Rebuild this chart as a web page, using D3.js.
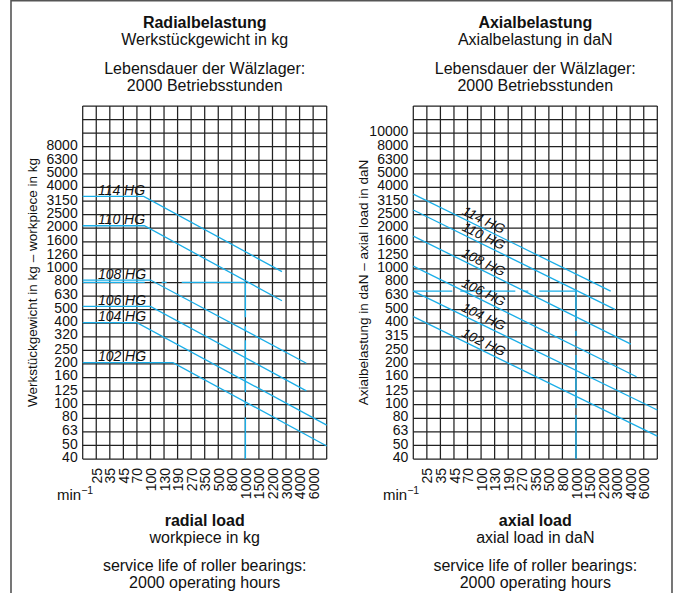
<!DOCTYPE html>
<html><head><meta charset="utf-8">
<script src="https://cdn.jsdelivr.net/npm/d3@7"></script>
<style>
html,body{margin:0;padding:0;background:#fff;}
svg{display:block;font-family:"Liberation Sans",Arial,Helvetica,sans-serif;}
</style></head><body>
<svg id="chart" width="679" height="593"></svg>
<script>
// ---------------- data ----------------
// speed (min^-1) labels, placed on grid columns 1..17 (columns 0..18 form the grid)
const speedLabels = ["25","35","45","70","100","130","190","270","350","500","800","1000","1500","2200","3000","4000","6000"];
const radialTicks = [40,50,63,80,100,125,160,200,250,320,400,500,630,800,1000,1260,1600,2000,2500,3150,4000,5000,6300,8000];
const axialTicks  = [40,50,63,80,100,125,160,200,250,315,400,500,630,800,1000,1250,1600,2000,2500,3150,4000,5000,6300,8000,10000];

// series vertices: [speed column position, load]
const radial114 = [[0,3440],[4.5,3440],[14.7,960]];
const radial110 = [[0,2090],[4.55,2090],[14.7,586]];
const radial108 = [[0,832],[5,832],[16.5,203]];
const radial106 = [[0,532],[5,532],[16.5,127]];
const radial104 = [[0,404],[4,404],[18,71.1]];
const radial102 = [[0,205],[6.66,205],[18,49.9]];
const radialNames = ["114 HG","110 HG","108 HG","106 HG","104 HG","102 HG"];

const axial114 = [[0,3573],[14.56,690]];
const axial110 = [[0,2729],[14.87,506]];
const axial108 = [[0,1754],[16.05,281]];
const axial106 = [[0,1054],[16.47,161.5]];
const axial104 = [[0,690],[18,91.8]];
const axial102 = [[0,448],[18,59]];
const axialNames = ["114 HG","110 HG","108 HG","106 HG","104 HG","102 HG"];

// example reading (speed column, load)
const radialExample = [12, 800];
const axialExample  = [12, 690];

// ---------------- drawing ----------------
const svg = d3.select("#chart");
const BLUE = "#1aaee8";

svg.append("path")
  .attr("d","M11,600 L11,0.75 L672,0.75 L672,600")
  .attr("fill","none").attr("stroke","#555").attr("stroke-width",1.6);

function panel(o){
  const g = svg.append("g");
  const x = d3.scaleLinear().domain([0,18]).range([o.left, o.left+244]);
  const y = d3.scaleLog().domain([40, 40*Math.pow(10,2.6)]).range([459,106]);
  const cx = (x.range()[0]+x.range()[1])/2;

  // grid
  const grid = g.append("g");
  grid.selectAll("line.v").data(d3.range(0,19)).join("line")
    .attr("x1",d=>x(d)).attr("x2",d=>x(d)).attr("y1",106).attr("y2",459)
    .attr("stroke","#222").attr("stroke-width",1.25);
  grid.selectAll("line.h").data(d3.range(0,27).map(k=>40*Math.pow(10,k/10))).join("line")
    .attr("y1",d=>y(d)).attr("y2",d=>y(d)).attr("x1",x(0)).attr("x2",x(18))
    .attr("stroke","#222").attr("stroke-width",1.25);

  // axes
  const ya = g.append("g").attr("transform",`translate(${x(0)},0)`)
    .call(d3.axisLeft(y).tickValues(o.ticks).tickFormat(d=>String(d)).tickSize(0).tickPadding(5));
  ya.select(".domain").remove();
  ya.selectAll("text").attr("font-size",14).attr("fill","#111").attr("dy","0.18em")
    .attr("font-family",'"Liberation Sans",Arial,sans-serif');

  const xa = g.append("g").attr("transform","translate(0,459)")
    .call(d3.axisBottom(x).tickValues(d3.range(1,18)).tickFormat(i=>speedLabels[i-1]).tickSize(0));
  xa.select(".domain").remove();
  xa.selectAll("text").attr("font-size",14).attr("fill","#111")
    .attr("font-family",'"Liberation Sans",Arial,sans-serif')
    .attr("transform","rotate(-90)").attr("x",-9).attr("y",0).attr("dy","0.36em")
    .style("text-anchor","end");

  // example reading lines
  g.append("line").attr("x1",x(0)).attr("x2",x(o.example[0]))
    .attr("y1",y(o.example[1])).attr("y2",y(o.example[1]))
    .attr("stroke",BLUE).attr("stroke-width",1.4).attr("stroke-dasharray",o.hDash);
  g.append("line").attr("x1",x(o.example[0])).attr("x2",x(o.example[0]))
    .attr("y1",y(o.example[1])).attr("y2",459)
    .attr("stroke",BLUE).attr("stroke-width",1.4).attr("stroke-dasharray",o.vDash);

  // series
  const line = d3.line().x(d=>x(d[0])).y(d=>y(d[1]));
  g.selectAll("path.s").data(o.series).join("path")
    .attr("d",d=>line(d)).attr("fill","none").attr("stroke",BLUE).attr("stroke-width",1.3);

  // series labels
  o.series.forEach((s,i)=>{
    if(o.rotated){
      const p0=s[0], p1=s[s.length-1];
      const ang = Math.atan2(y(p1[1])-y(p0[1]), x(p1[0])-x(p0[0]))*180/Math.PI;
      const c = 5.2;
      const v = Math.pow(10, Math.log10(p0[1]) + (Math.log10(p1[1])-Math.log10(p0[1]))*(c-p0[0])/(p1[0]-p0[0]));
      g.append("text").attr("transform",`translate(${x(c)},${y(v)-9}) rotate(${ang})`)
        .attr("text-anchor","middle").attr("dy","0.35em")
        .attr("font-size",13.5).attr("font-style","italic").attr("fill","#111").text(o.names[i]);
    } else {
      g.append("text").attr("x",x(1.12)).attr("y",y(s[0][1])-1.5)
        .attr("font-size",14).attr("font-style","italic").attr("fill","#111").text(o.names[i]);
    }
  });

  // titles
  const t = g.append("g").attr("fill","#111").attr("text-anchor","middle");
  t.append("text").attr("x",cx).attr("y",28).attr("font-size",16).attr("font-weight","bold").text(o.top[0]);
  t.append("text").attr("x",cx).attr("y",45).attr("font-size",16).text(o.top[1]);
  t.append("text").attr("x",cx).attr("y",74).attr("font-size",16).text("Lebensdauer der Wälzlager:");
  t.append("text").attr("x",cx).attr("y",91).attr("font-size",16).text("2000 Betriebsstunden");
  t.append("text").attr("x",cx).attr("y",526).attr("font-size",16).attr("font-weight","bold").text(o.bottom[0]);
  t.append("text").attr("x",cx).attr("y",543).attr("font-size",16).text(o.bottom[1]);
  t.append("text").attr("x",cx).attr("y",571).attr("font-size",16).text("service life of roller bearings:");
  t.append("text").attr("x",cx).attr("y",588).attr("font-size",16).text("2000 operating hours");

  // y axis title
  g.append("text").attr("transform",`translate(${o.yTitleX},282.5) rotate(-90)`)
    .attr("text-anchor","middle").attr("font-size",13.5).attr("fill","#111").text(o.yTitle);

  // min^-1
  const m = g.append("text").attr("x",o.minX).attr("y",500).attr("font-size",15).attr("fill","#111");
  m.append("tspan").text("min");
  m.append("tspan").attr("dy",-6).attr("font-size",10.5).text("−1");
}

panel({
  left:82.7, ticks:radialTicks,
  series:[radial114,radial110,radial108,radial106,radial104,radial102], names:radialNames,
  example:radialExample, hDash:"62,17,5,15,80", vDash:"35,9,5,9,52,10,5,10,80",
  rotated:false,
  top:["Radialbelastung","Werkstückgewicht in kg"],
  bottom:["radial load","workpiece in kg"],
  yTitle:"Werkstückgewicht in kg – workpiece in kg", yTitleX:37, minX:57
});
panel({
  left:413.3, ticks:axialTicks,
  series:[axial114,axial110,axial108,axial106,axial104,axial102], names:axialNames,
  example:axialExample, hDash:"39,8,55,8,5,11,60", vDash:"30,10,5,19,53,7,80",
  rotated:true,
  top:["Axialbelastung","Axialbelastung in daN"],
  bottom:["axial load","axial load in daN"],
  yTitle:"Axialbelastung in daN – axial load in daN", yTitleX:368, minX:383
});
</script>
</body></html>
